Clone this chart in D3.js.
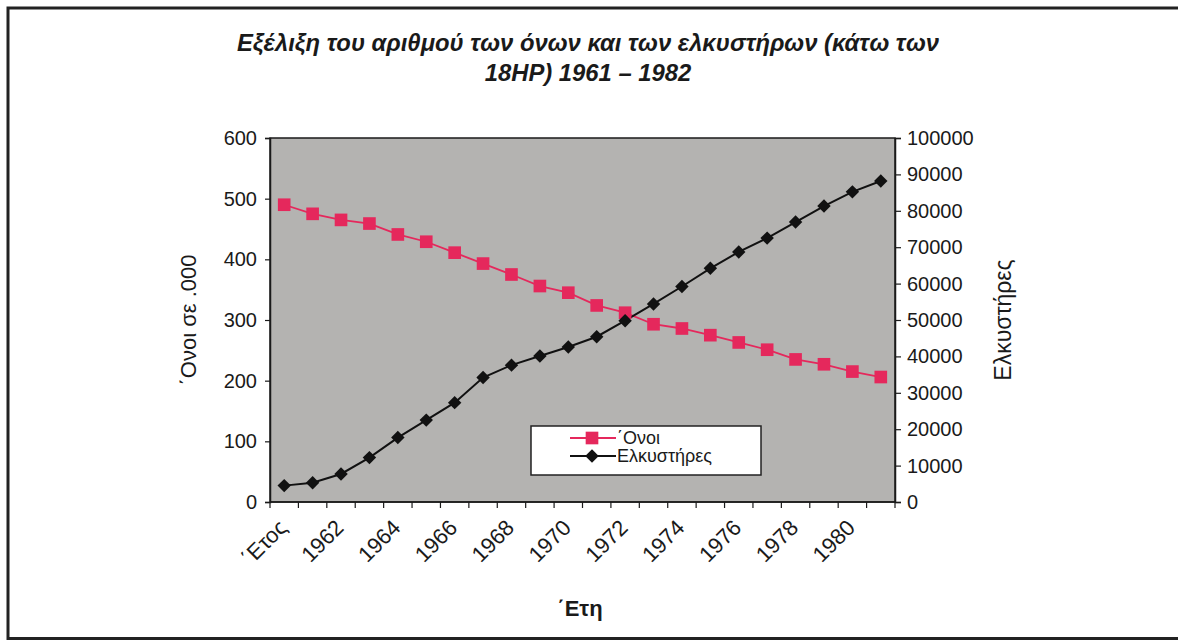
<!DOCTYPE html>
<html>
<head>
<meta charset="utf-8">
<script src="https://cdn.jsdelivr.net/npm/d3@7"></script>
<style>
  html, body { margin: 0; padding: 0; background: #fff; }
  svg { display: block; font-family: "Liberation Sans", Arial, sans-serif; }
</style>
</head>
<body>
<svg id="chart" width="1178" height="641"></svg>
<script>
// Category labels along the x axis (first cell is the column header)
const categories = ["΄Ετος", "1961", "1962", "1963", "1964", "1965", "1966", "1967", "1968", "1969",
  "1970", "1971", "1972", "1973", "1974", "1975", "1976", "1977", "1978", "1979", "1980", "1981"];

// Donkeys, thousands (left axis)
const donkeys = [490, 475, 465, 459, 441, 429, 411, 393, 375, 356, 345,
  324, 312, 293, 286, 275, 263, 251, 235, 227, 215, 206];

// Tractors under 18HP (right axis)
const tractors = [4500, 5300, 7700, 12200, 17700, 22500, 27300, 34200, 37600, 40100, 42600,
  45400, 49800, 54400, 59200, 64200, 68700, 72500, 76900, 81300, 85200, 88200];

const leftTicks = [0, 100, 200, 300, 400, 500, 600];
const rightTicks = [0, 10000, 20000, 30000, 40000, 50000, 60000, 70000, 80000, 90000, 100000];

const titleLines = ["Εξέλιξη του αριθμού των όνων και των ελκυστήρων (κάτω των", "18HP) 1961 – 1982"];
const seriesNames = ["΄Ονοι", "Ελκυστήρες"];

const svg = d3.select("#chart");
const plot = { left: 270, right: 895, top: 138, bottom: 502 };
const red = "#e5285c";
const ink = "#1a1a1a";

const x = d3.scaleBand().domain(categories).range([plot.left, plot.right]).padding(0);
const yL = d3.scaleLinear().domain([0, 600]).range([plot.bottom, plot.top]);
const yR = d3.scaleLinear().domain([0, 100000]).range([plot.bottom, plot.top]);
const cx = c => x(c) + x.bandwidth() / 2;

// Outer frame (open at the right edge)
svg.append("path")
  .attr("d", "M1180,8 H8 V638.5 H1180")
  .attr("fill", "none").attr("stroke", "#222").attr("stroke-width", 3);

// Title
svg.append("g").selectAll("text").data(titleLines).join("text")
  .attr("x", 588).attr("y", (d, i) => 51 + i * 30)
  .attr("text-anchor", "middle")
  .attr("font-size", 23.8).attr("font-weight", "bold").attr("font-style", "italic")
  .attr("fill", ink)
  .text(d => d);

// Plot background
svg.append("rect")
  .attr("x", plot.left).attr("y", plot.top)
  .attr("width", plot.right - plot.left).attr("height", plot.bottom - plot.top)
  .attr("fill", "#b4b3b1").attr("stroke", ink).attr("stroke-width", 1.5);

// Left axis
const gL = svg.append("g").attr("transform", `translate(${plot.left},0)`)
  .call(d3.axisLeft(yL).tickValues(leftTicks).tickSize(5).tickPadding(8).tickFormat(d3.format("d")));
gL.select(".domain").attr("stroke", ink).attr("stroke-width", 1.5);
gL.selectAll(".tick line").attr("stroke", ink).attr("stroke-width", 1.2);
gL.selectAll(".tick text").attr("font-size", 20).attr("fill", ink)
  .attr("font-family", "Liberation Sans, Arial, sans-serif");

// Right axis
const gR = svg.append("g").attr("transform", `translate(${plot.right},0)`)
  .call(d3.axisRight(yR).tickValues(rightTicks).tickSize(6).tickPadding(6).tickFormat(d3.format("d")));
gR.select(".domain").attr("stroke", ink).attr("stroke-width", 1.5);
gR.selectAll(".tick line").attr("stroke", ink).attr("stroke-width", 1.2);
gR.selectAll(".tick text").attr("font-size", 20).attr("fill", ink)
  .attr("font-family", "Liberation Sans, Arial, sans-serif");

// Bottom axis: tick marks at category boundaries, every other label shown
const boundaries = categories.map(c => x(c)).concat([plot.right]);
svg.append("g").selectAll("line").data(boundaries).join("line")
  .attr("x1", d => d).attr("x2", d => d)
  .attr("y1", plot.bottom).attr("y2", plot.bottom + 6)
  .attr("stroke", ink).attr("stroke-width", 1.2);
svg.append("line")
  .attr("x1", plot.left).attr("x2", plot.right)
  .attr("y1", plot.bottom).attr("y2", plot.bottom)
  .attr("stroke", ink).attr("stroke-width", 1.5);

svg.append("g").selectAll("text")
  .data(categories.filter((c, i) => i % 2 === 0))
  .join("text")
  .attr("transform", d => `translate(${cx(d) + 4},${plot.bottom + 27}) rotate(-45)`)
  .attr("text-anchor", "end")
  .attr("font-size", 22).attr("fill", ink)
  .text(d => d);

// Axis titles
svg.append("text")
  .attr("transform", `translate(196,320) rotate(-90)`)
  .attr("text-anchor", "middle").attr("font-size", 22).attr("fill", ink)
  .text("΄Ονοι σε .000");
svg.append("text")
  .attr("transform", `translate(1011,320) rotate(-90)`)
  .attr("text-anchor", "middle").attr("font-size", 23).attr("fill", ink)
  .text("Ελκυστήρες");
svg.append("text")
  .attr("x", 580).attr("y", 616)
  .attr("text-anchor", "middle").attr("font-size", 22).attr("font-weight", "bold").attr("fill", ink)
  .text("΄Ετη");

// Series lines
const lineL = d3.line().x((d, i) => cx(categories[i])).y(d => yL(d));
const lineR = d3.line().x((d, i) => cx(categories[i])).y(d => yR(d));

svg.append("path").datum(donkeys).attr("d", lineL)
  .attr("fill", "none").attr("stroke", red).attr("stroke-width", 1.8);
svg.append("path").datum(tractors).attr("d", lineR)
  .attr("fill", "none").attr("stroke", "#111").attr("stroke-width", 2);

// Markers
const square = d3.symbol().type(d3.symbolSquare).size(160);
const diamond = d3.symbol().type(d3.symbolDiamond2).size(115);

svg.append("g").selectAll("path").data(donkeys).join("path")
  .attr("d", square)
  .attr("transform", (d, i) => `translate(${cx(categories[i])},${yL(d)})`)
  .attr("fill", red);
svg.append("g").selectAll("path").data(tractors).join("path")
  .attr("d", diamond)
  .attr("transform", (d, i) => `translate(${cx(categories[i])},${yR(d)})`)
  .attr("fill", "#111");

// Legend
const lg = svg.append("g").attr("transform", "translate(531,426)");
lg.append("rect").attr("width", 230).attr("height", 49)
  .attr("fill", "#fff").attr("stroke", "#222").attr("stroke-width", 1.5);
const rows = lg.selectAll("g.row").data(seriesNames).join("g").attr("class", "row")
  .attr("transform", (d, i) => `translate(0,${12 + i * 18})`);
rows.append("line").attr("x1", 39).attr("x2", 85).attr("y1", 0).attr("y2", 0)
  .attr("stroke", (d, i) => i === 0 ? red : "#111").attr("stroke-width", (d, i) => i === 0 ? 1.8 : 2);
rows.append("path")
  .attr("d", (d, i) => i === 0 ? square() : diamond())
  .attr("transform", "translate(61,0)")
  .attr("fill", (d, i) => i === 0 ? red : "#111");
rows.append("text").attr("x", 86).attr("y", 6)
  .attr("font-size", 18).attr("fill", ink)
  .text(d => d);
</script>
</body>
</html>
